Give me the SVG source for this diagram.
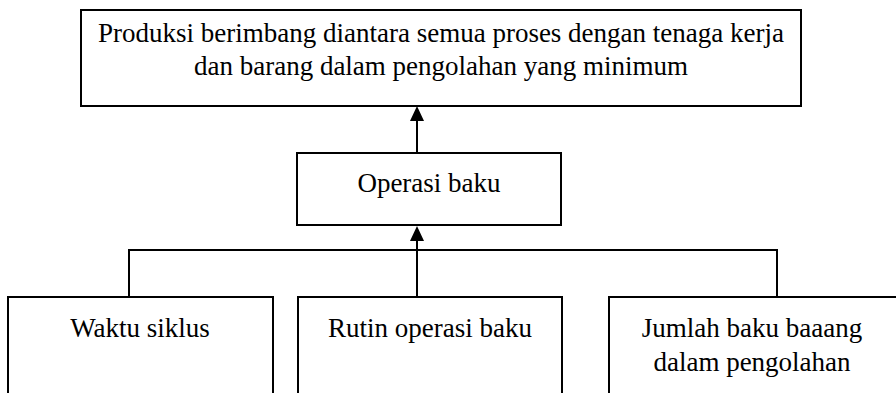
<svg xmlns="http://www.w3.org/2000/svg" width="896" height="393" viewBox="0 0 896 393">
<style>
.box{fill:#fff;stroke:#000;stroke-width:2}
.t{font-family:"Liberation Serif","Times New Roman",serif;font-size:27px;fill:#000;text-anchor:middle}
.c{fill:none;stroke:#000;stroke-width:2}
.ah{fill:#000}
</style>
<g id="connectors">
<path class="c" d="M129,297 V250 H777 V297"/>
<path class="c" d="M417,297 V240"/>
<polygon class="ah" points="417,226 410,241 424,241"/>
<path class="c" d="M417,153 V120"/>
<polygon class="ah" points="417,106 410,121 424,121"/>
</g>
<g id="top">
<rect class="box" x="81" y="10" width="720" height="96"/>
<text class="t" x="441" y="42">Produksi berimbang diantara semua proses dengan tenaga kerja</text>
<text class="t" x="441" y="75">dan barang dalam pengolahan yang minimum</text>
</g>
<g id="mid">
<rect class="box" x="297" y="153" width="264" height="72"/>
<text class="t" x="429" y="192">Operasi baku</text>
</g>
<g id="b1">
<rect class="box" x="8" y="297" width="265" height="100"/>
<text class="t" x="140" y="337">Waktu siklus</text>
</g>
<g id="b2">
<rect class="box" x="298" y="297" width="264" height="100"/>
<text class="t" x="430" y="337">Rutin operasi baku</text>
</g>
<g id="b3">
<rect class="box" x="609" y="297" width="290" height="100"/>
<text class="t" x="752" y="337">Jumlah baku baaang</text>
<text class="t" x="752" y="371">dalam pengolahan</text>
</g>
</svg>
